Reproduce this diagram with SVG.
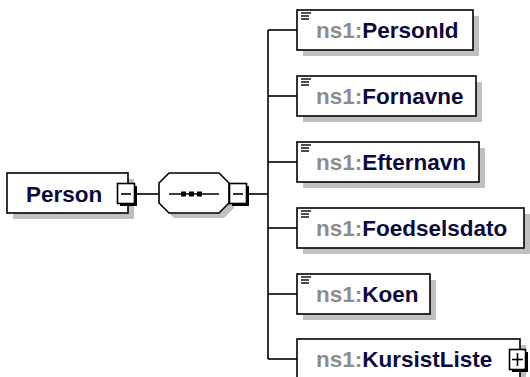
<svg xmlns="http://www.w3.org/2000/svg" width="530" height="377" viewBox="0 0 530 377">
<style>
.box{fill:#fff;stroke:#000;stroke-width:1.6}
.sh{fill:#c0c0c0}
.ln{stroke:#000;stroke-width:1.6;fill:none}
.t{font-family:"Liberation Sans",Arial,sans-serif;font-weight:bold;font-size:22.5px;fill:#0a0a3c}
.ns{fill:#8c8c8c}
.ic{stroke:#000;stroke-width:1.4}
</style>
<rect width="530" height="377" fill="#fff"/>
<g id="connectors">
<line class="ln" x1="137" y1="194" x2="160" y2="194"/>
<line class="ln" x1="248" y1="194" x2="268" y2="194"/>
<line class="ln" x1="268" y1="30" x2="268" y2="359"/>
<line class="ln" x1="268" y1="30" x2="297" y2="30"/>
<line class="ln" x1="268" y1="96" x2="297" y2="96"/>
<line class="ln" x1="268" y1="162" x2="297" y2="162"/>
<line class="ln" x1="268" y1="228" x2="297" y2="228"/>
<line class="ln" x1="268" y1="294" x2="297" y2="294"/>
<line class="ln" x1="268" y1="359" x2="297" y2="359"/>
</g>
<g id="Person">
<rect class="sh" x="13" y="179" width="121" height="40"/>
<rect class="box" x="7" y="173" width="121" height="40"/>
<text class="t" x="26" y="201.5">Person</text>
<rect x="120" y="186" width="17" height="20" fill="#000"/>
<rect class="box" x="117.5" y="183.5" width="17" height="20"/>
<line class="ln" x1="121" y1="194" x2="131" y2="194"/>
</g>
<g id="sequence">
<path class="sh" d="M174 178 H224 L234 188 V208 L224 218 H174 L164 208 V188 Z"/>
<path class="box" d="M169 173 H219 L229 183 V203 L219 213 H169 L159 203 V183 Z"/>
<line class="ln" x1="169" y1="194" x2="219" y2="194"/>
<rect x="181" y="191.5" width="5" height="5"/>
<rect x="189" y="191.5" width="5" height="5"/>
<rect x="197" y="191.5" width="5" height="5"/>
<rect x="232" y="186" width="17" height="20" fill="#000"/>
<rect class="box" x="229.5" y="183.5" width="17" height="20"/>
<line class="ln" x1="233" y1="194" x2="243" y2="194"/>
</g>
<g id="PersonId">
<rect class="sh" x="303" y="16" width="176" height="40"/>
<rect class="box" x="297" y="10" width="176" height="40"/>
<line class="ic" x1="301" y1="13" x2="311" y2="13"/><line class="ic" x1="301" y1="16" x2="309" y2="16"/><line class="ic" x1="301" y1="19" x2="309" y2="19"/>
<text class="t" x="316" y="38"><tspan class="ns">ns1:</tspan>PersonId</text>
</g>
<g id="Fornavne">
<rect class="sh" x="303" y="82" width="179" height="40"/>
<rect class="box" x="297" y="76" width="179" height="40"/>
<line class="ic" x1="301" y1="79" x2="311" y2="79"/><line class="ic" x1="301" y1="82" x2="309" y2="82"/><line class="ic" x1="301" y1="85" x2="309" y2="85"/>
<text class="t" x="316" y="104"><tspan class="ns">ns1:</tspan>Fornavne</text>
</g>
<g id="Efternavn">
<rect class="sh" x="303" y="148" width="182" height="40"/>
<rect class="box" x="297" y="142" width="182" height="40"/>
<line class="ic" x1="301" y1="145" x2="311" y2="145"/><line class="ic" x1="301" y1="148" x2="309" y2="148"/><line class="ic" x1="301" y1="151" x2="309" y2="151"/>
<text class="t" x="316" y="170"><tspan class="ns">ns1:</tspan>Efternavn</text>
</g>
<g id="Foedselsdato">
<rect class="sh" x="303" y="214" width="227" height="40"/>
<rect class="box" x="297" y="208" width="227" height="40"/>
<line class="ic" x1="301" y1="211" x2="311" y2="211"/><line class="ic" x1="301" y1="214" x2="309" y2="214"/><line class="ic" x1="301" y1="217" x2="309" y2="217"/>
<text class="t" x="316" y="236"><tspan class="ns">ns1:</tspan>Foedselsdato</text>
</g>
<g id="Koen">
<rect class="sh" x="303" y="280" width="133" height="40"/>
<rect class="box" x="297" y="274" width="133" height="40"/>
<line class="ic" x1="301" y1="277" x2="311" y2="277"/><line class="ic" x1="301" y1="280" x2="309" y2="280"/><line class="ic" x1="301" y1="283" x2="309" y2="283"/>
<text class="t" x="316" y="302"><tspan class="ns">ns1:</tspan>Koen</text>
</g>
<g id="KursistListe">
<rect class="sh" x="303" y="345" width="223" height="40"/>
<rect class="box" x="297" y="339" width="223" height="40"/>
<text class="t" x="316" y="367"><tspan class="ns">ns1:</tspan>KursistListe</text>
<rect x="512" y="352" width="16" height="20" fill="#000"/>
<rect class="box" x="509.5" y="349.5" width="16" height="20"/>
<line class="ln" x1="512" y1="359.5" x2="523" y2="359.5"/>
<line class="ln" x1="517.5" y1="353" x2="517.5" y2="366"/>
</g>
</svg>
